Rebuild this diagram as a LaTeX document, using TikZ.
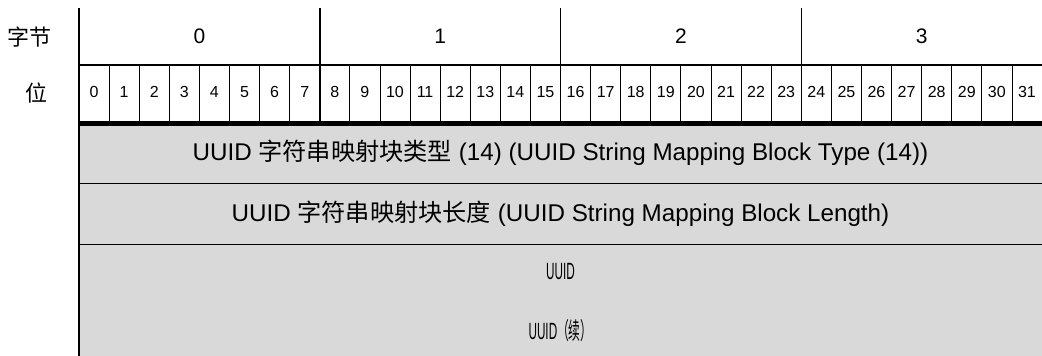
\documentclass[tikz,border=0pt]{standalone}
\usepackage{fontspec}
\setmainfont{Liberation Sans}
\newfontfamily\cjk{Noto Sans CJK SC}
\definecolor{rowgray}{RGB}{217,217,217}

\begin{document}
\begin{tikzpicture}[x=1pt, y=-1pt,
  bytenum/.style={font=\fontsize{21}{22}\selectfont, anchor=base},
  bitnum/.style={font=\fontsize{16}{17}\selectfont, inner sep=0pt, anchor=base},
  rowlabel/.style={font=\cjk\fontsize{22}{24}\selectfont},
  fieldtext/.style={font=\fontsize{24.2}{26}\selectfont, anchor=base},
  conttext/.style={font=\fontsize{23.5}{25}\selectfont, anchor=base}]
  \useasboundingbox (0,0) rectangle (1042,356);

  \fill[rowgray] (79,124) rectangle (1042,356);
  \draw[line width=1pt] (79,183) -- (1042,183);
  \draw[line width=1pt] (79,244) -- (1042,244);
  \draw[line width=5pt] (79,123.5) -- (1042,123.5);
  \draw[line width=1.5pt] (79,65) -- (1042,65);
  \draw[line width=2pt] (79,8) -- (79,356);

  \foreach \b in {1,2,3}
    \draw[line width=1.5pt] ({79+\b*240.75},8) -- ({79+\b*240.75},121);
  \foreach \i in {1,...,31}
    \draw[line width=0.8pt] ({79+\i*30.094},65) -- ({79+\i*30.094},121);

  \node[rowlabel] (labbyte) at (30,37) {字节};
  \node[rowlabel] (labbit) at (36,93) {位};

  \foreach \b in {0,...,3}
    \node[bytenum] (byte\b) at ({79+(\b+0.5)*240.75},43) {\b};
  \foreach \i in {0,...,31}
    \node[bitnum] (bit\i) at ({79+(\i+0.5)*30.094},97.5) {\i};

  \node[fieldtext] (rowtype) at (560.5,160)
    {UUID {\cjk 字符串映射块类型} (14) (UUID String Mapping Block Type (14))};
  \node[fieldtext] (rowlength) at (560.5,221.5)
    {UUID {\cjk 字符串映射块长度} (UUID String Mapping Block Length)};
  \node[conttext] (rowuuid) at (560.5,279)
    {\scalebox{0.5}[1]{UUID}};
  \node[conttext] (rowuuidcont) at (560.5,339)
    {\scalebox{0.5}[1]{UUID{\cjk （续）}}};
\end{tikzpicture}
\end{document}
